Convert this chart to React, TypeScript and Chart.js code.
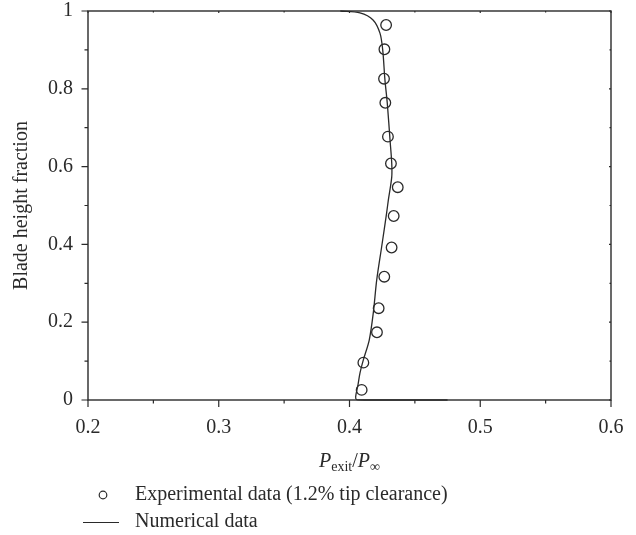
import React, { useEffect, useRef } from "react";
import { Chart, registerables } from "chart.js";

Chart.register(...registerables);

// Experimental data (1.2% tip clearance)
const expX = [0.428, 0.4267, 0.4264, 0.4274, 0.4294, 0.4317, 0.4369, 0.4338, 0.4322, 0.4266, 0.4223, 0.421, 0.4106, 0.4093];
const expY = [0.964, 0.9015, 0.826, 0.764, 0.677, 0.608, 0.547, 0.473, 0.392, 0.317, 0.236, 0.174, 0.096, 0.026];

// Numerical data
const numX = [0.393, 0.408, 0.418, 0.4233, 0.4254, 0.4271, 0.4289, 0.431, 0.4323, 0.4323, 0.4297, 0.4284, 0.4246, 0.4208, 0.4182, 0.4151, 0.4106, 0.408, 0.4065, 0.4047, 0.4055, 0.412, 0.475];
const numY = [1.0, 0.995, 0.977, 0.943, 0.9, 0.823, 0.763, 0.668, 0.609, 0.573, 0.514, 0.481, 0.394, 0.308, 0.224, 0.154, 0.103, 0.069, 0.039, 0.008, 0.001, 0.0, 0.0];

const xMajor = [0.2, 0.3, 0.4, 0.5, 0.6];
const xMinor = [0.25, 0.35, 0.45, 0.55];
const yMajor = [0, 0.2, 0.4, 0.6, 0.8, 1];
const yMinor = [0.1, 0.3, 0.5, 0.7, 0.9];

const expLabel = "Experimental data (1.2% tip clearance)";
const numLabel = "Numerical data";
const yTitle = "Blade height fraction";

const SERIF = '"Liberation Serif", "DejaVu Serif", serif';
const INK = "#2a2a2a";
const FS = 20;

const zeroPad = (s: any) => {
  s.paddingLeft = 0;
  s.paddingRight = 0;
  s.paddingTop = 0;
  s.paddingBottom = 0;
};

const decorPlugin = {
  id: "decor",
  afterDraw(chart: any) {
    const { ctx, chartArea: a, scales } = chart;
    const xs = scales.x;
    const ys = scales.y;
    ctx.save();
    ctx.strokeStyle = INK;
    ctx.lineWidth = 1.4;
    ctx.strokeRect(a.left, a.top, a.right - a.left, a.bottom - a.top);
    ctx.lineWidth = 1.2;
    ctx.beginPath();
    xMajor.forEach((v) => {
      const px = xs.getPixelForValue(v);
      ctx.moveTo(px, a.bottom);
      ctx.lineTo(px, a.bottom + 7);
      ctx.moveTo(px, a.top);
      ctx.lineTo(px, a.top + 2);
    });
    xMinor.forEach((v) => {
      const px = xs.getPixelForValue(v);
      ctx.moveTo(px, a.bottom);
      ctx.lineTo(px, a.bottom + 3.5);
      ctx.moveTo(px, a.top);
      ctx.lineTo(px, a.top + 1.5);
    });
    yMajor.forEach((v) => {
      const py = ys.getPixelForValue(v);
      ctx.moveTo(a.left, py);
      ctx.lineTo(a.left - 6.5, py);
      ctx.moveTo(a.right, py);
      ctx.lineTo(a.right - 2, py);
    });
    yMinor.forEach((v) => {
      const py = ys.getPixelForValue(v);
      ctx.moveTo(a.left, py);
      ctx.lineTo(a.left - 3.5, py);
      ctx.moveTo(a.right, py);
      ctx.lineTo(a.right - 1.5, py);
    });
    ctx.stroke();

    // y title
    ctx.fillStyle = INK;
    ctx.font = `${FS}px ${SERIF}`;
    ctx.save();
    ctx.translate(22, (a.top + a.bottom) / 2);
    ctx.rotate(-Math.PI / 2);
    ctx.textAlign = "center";
    ctx.textBaseline = "middle";
    ctx.fillText(yTitle, 0, 0);
    ctx.restore();

    // x title: P_exit / P_inf
    const parts = [
      { t: "P", f: `italic ${FS}px ${SERIF}`, dy: 0 },
      { t: "exit", f: `14px ${SERIF}`, dy: 4 },
      { t: "/", f: `${FS}px ${SERIF}`, dy: 0 },
      { t: "P", f: `italic ${FS}px ${SERIF}`, dy: 0 },
      { t: "\u221e", f: `14px ${SERIF}`, dy: 4 },
    ];
    let total = 0;
    parts.forEach((p) => {
      ctx.font = p.f;
      total += ctx.measureText(p.t).width;
    });
    let cx = (a.left + a.right) / 2 - total / 2;
    const baseY = 467;
    ctx.textAlign = "left";
    ctx.textBaseline = "alphabetic";
    parts.forEach((p) => {
      ctx.font = p.f;
      ctx.fillText(p.t, cx, baseY + p.dy);
      cx += ctx.measureText(p.t).width;
    });

    // legend
    ctx.font = `${FS}px ${SERIF}`;
    ctx.textBaseline = "middle";
    ctx.lineWidth = 1.2;
    ctx.beginPath();
    ctx.arc(103, 495, 3.8, 0, Math.PI * 2);
    ctx.stroke();
    ctx.fillText(expLabel, 135, 495);
    ctx.beginPath();
    ctx.moveTo(83, 522.5);
    ctx.lineTo(119, 522.5);
    ctx.stroke();
    ctx.fillText(numLabel, 135, 522);
    ctx.restore();
  },
};

export default function App() {
  const ref = useRef<HTMLCanvasElement>(null);
  useEffect(() => {
    if (!ref.current) return;
    const chart = new Chart(ref.current, {
      type: "scatter",
      data: {
        datasets: [
          {
            label: numLabel,
            data: numX.map((x, i) => ({ x, y: numY[i] })),
            showLine: true,
            borderColor: INK,
            borderWidth: 1.3,
            pointRadius: 0,
            tension: 0.3,
            fill: false,
            clip: false as any,
          },
          {
            label: expLabel,
            data: expX.map((x, i) => ({ x, y: expY[i] })),
            showLine: false,
            pointRadius: 5.3,
            pointStyle: "circle",
            borderColor: INK,
            backgroundColor: "rgba(255,255,255,0)",
            borderWidth: 1.3,
            clip: false as any,
          },
        ],
      },
      options: {
        responsive: false,
        animation: false,
        devicePixelRatio: 1,
        layout: { padding: { left: 8, right: 25, top: 11, bottom: 0 } },
        plugins: { legend: { display: false }, tooltip: { enabled: false } },
        scales: {
          x: {
            type: "linear",
            min: 0.2,
            max: 0.6,
            afterFit: (s: any) => {
              s.height = 135;
              zeroPad(s);
            },
            grid: { display: false, drawTicks: false },
            border: { display: false },
            ticks: {
              stepSize: 0.1,
              padding: 16,
              color: INK,
              font: { family: SERIF, size: FS },
              callback: (v: any) => Number(v).toFixed(1),
            },
          },
          y: {
            type: "linear",
            min: 0,
            max: 1,
            afterFit: (s: any) => {
              s.width = 80;
              zeroPad(s);
            },
            grid: { display: false, drawTicks: false },
            border: { display: false },
            ticks: {
              stepSize: 0.2,
              padding: 15,
              color: INK,
              font: { family: SERIF, size: FS },
              callback: (v: any) => {
                const n = Number(v);
                if (Math.abs(n) < 1e-9) return "0";
                if (Math.abs(n - 1) < 1e-9) return "1";
                return n.toFixed(1);
              },
            },
          },
        },
      },
      plugins: [decorPlugin],
    });
    return () => chart.destroy();
  }, []);
  return (
    <div style={{ position: "absolute", left: 0, top: 0, width: 636, height: 535, background: "#fff" }}>
      <canvas ref={ref} width={636} height={535} />
    </div>
  );
}
